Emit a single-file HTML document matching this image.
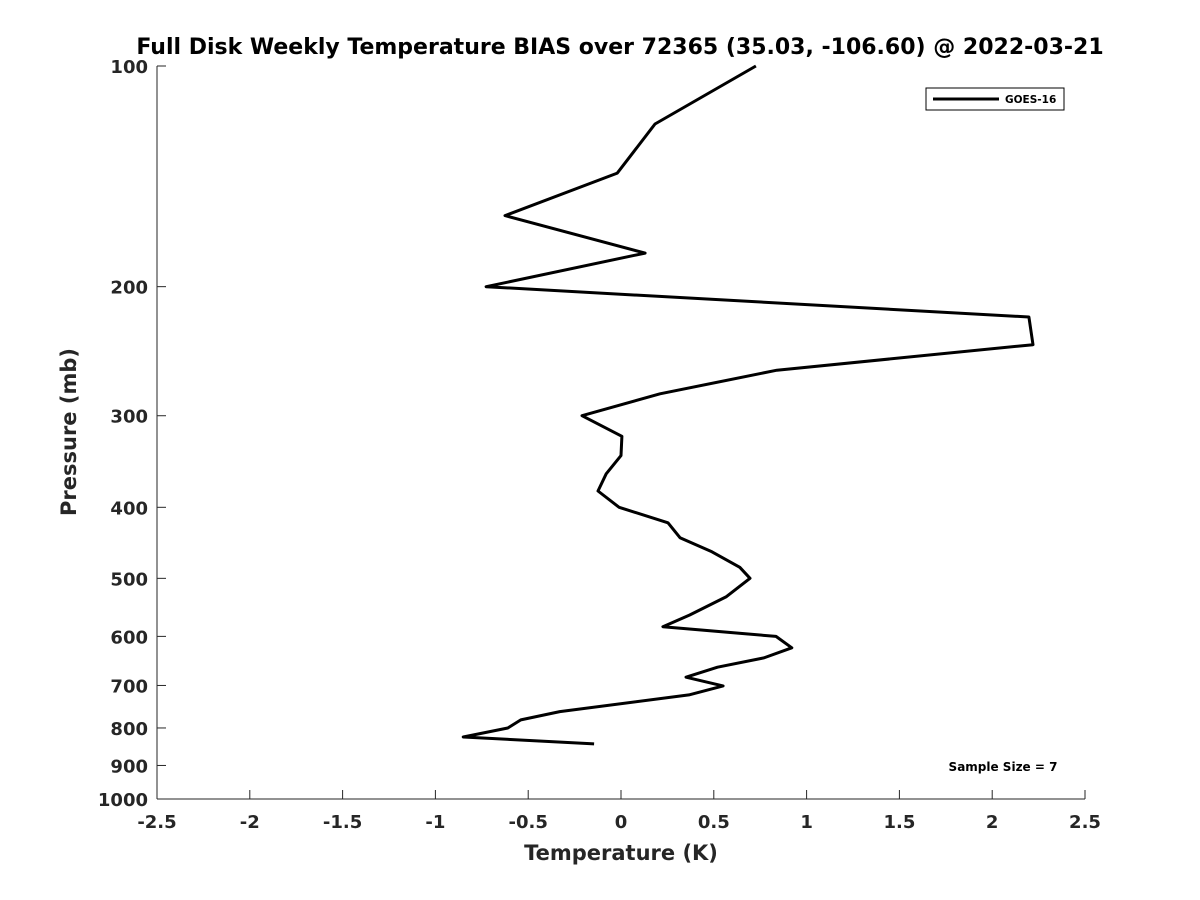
<!DOCTYPE html>
<html><head><meta charset="utf-8"><style>
html,body{margin:0;padding:0;background:#fff;}
svg{display:block;font-family:"DejaVu Sans","Liberation Sans",sans-serif;}
</style></head><body>
<svg id="chart" width="1200" height="900" viewBox="0 0 1200 900">
<rect width="1200" height="900" fill="#fff"/>
<text x="620" y="54" text-anchor="middle" font-size="22" font-weight="bold" fill="#000">Full Disk Weekly Temperature BIAS over 72365 (35.03, -106.60) @ 2022-03-21</text>
<g id="axes"></g>
<path id="series" fill="none" stroke="#000" stroke-width="3" stroke-linejoin="round"/>
<g>
<rect x="926" y="88" width="138" height="22" fill="#fff" stroke="#000" stroke-width="1"/>
<line x1="933" y1="99" x2="999" y2="99" stroke="#000" stroke-width="3"/>
<text x="1005" y="103" font-size="10.5" font-weight="bold">GOES-16</text>
</g>
<text x="1003" y="771" text-anchor="middle" font-size="12" font-weight="bold">Sample Size = 7</text>
<text x="621" y="860" text-anchor="middle" font-size="21" font-weight="bold" fill="#262626">Temperature (K)</text>
<text transform="translate(76,432) rotate(-90)" text-anchor="middle" font-size="21" font-weight="bold" fill="#262626">Pressure (mb)</text>
</svg>
<script>
const temps = [0.727,0.183,-0.02,-0.625,0.13,-0.727,2.198,2.22,0.84,0.21,-0.21,0.005,0,-0.08,-0.124,-0.01,0.253,0.318,0.49,0.64,0.695,0.566,0.37,0.226,0.835,0.92,0.77,0.52,0.35,0.55,0.366,-0.33,-0.54,-0.61,-0.85,-0.145];
const pressures = [100,120,140,160,180,200,220,240,260,280,300,320,340,360,380,400,420,440,460,483,500,530,561,582,600,622,642,661,682,701,721,760,780,800,823,841];
const xTicks = [-2.5,-2,-1.5,-1,-0.5,0,0.5,1,1.5,2,2.5];
const xTickLabels = ["-2.5","-2","-1.5","-1","-0.5","0","0.5","1","1.5","2","2.5"];
const yTicks = [100,200,300,400,500,600,700,800,900,1000];
const yTickLabels = ["100","200","300","400","500","600","700","800","900","1000"];

const X0=157,X1=1085,Y0=66,Y1=799;
function xs(v){return X0+(v+2.5)/5*(X1-X0);}
function ys(p){return Y0+(Math.log10(p)-2)*(Y1-Y0);}
const NS="http://www.w3.org/2000/svg";
const ax=document.getElementById('axes');
function mk(t,a){const e=document.createElementNS(NS,t);for(const k in a)e.setAttribute(k,a[k]);return e;}
const xl=mk('line',{x1:X0,y1:Y1,x2:X1,y2:Y1,stroke:'#262626','stroke-width':1});


ax.appendChild(xl);
const yl=mk('line',{x1:X0,y1:Y0,x2:X0,y2:Y1,stroke:'#262626','stroke-width':1});


ax.appendChild(yl);
xTicks.forEach((v,i)=>{
  const x=xs(v);
  const t=mk('line',{x1:x,y1:Y1,x2:x,y2:Y1-9,stroke:'#262626','stroke-width':1});
  
  
  ax.appendChild(t);
  const l=mk('text',{x:x,y:Y1+29,'text-anchor':'middle','font-size':18,'font-weight':'bold',fill:'#262626'});
  l.textContent=xTickLabels[i];
  
  
  ax.appendChild(l);
});
yTicks.forEach((v,i)=>{
  const y=ys(v);
  const t=mk('line',{x1:X0,y1:y,x2:X0+9,y2:y,stroke:'#262626','stroke-width':1});
  
  
  ax.appendChild(t);
  const l=mk('text',{x:X0-9,y:y+7,'text-anchor':'end','font-size':18,'font-weight':'bold',fill:'#262626'});
  l.textContent=yTickLabels[i];
  
  
  ax.appendChild(l);
});
document.getElementById('series').setAttribute('d',temps.map((t,i)=>(i?'L':'M')+xs(t).toFixed(1)+' '+ys(pressures[i]).toFixed(1)).join(' '));
</script>
</body></html>
